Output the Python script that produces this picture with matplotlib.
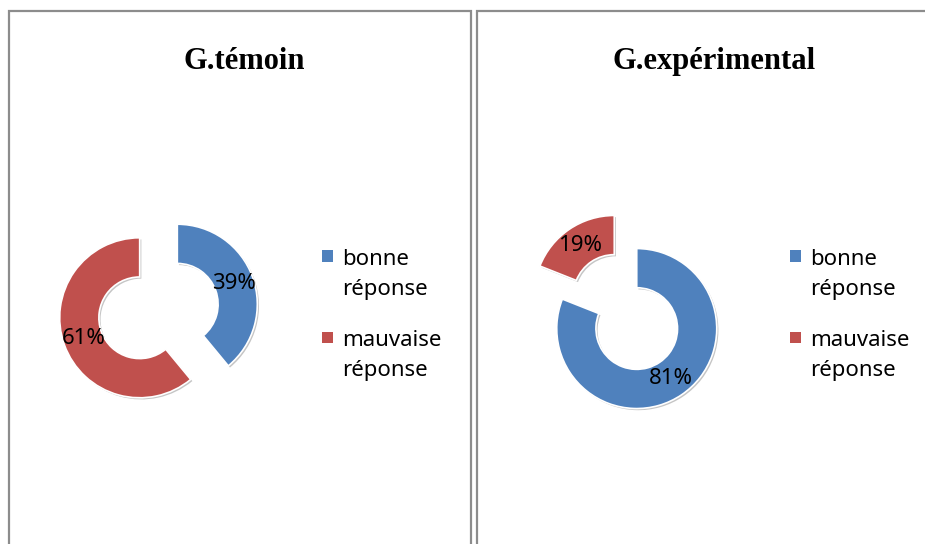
import matplotlib

matplotlib.use("Agg")

import matplotlib.pyplot as plt  # noqa: E402
import matplotlib.patheffects as pe  # noqa: E402
from matplotlib.patches import Rectangle  # noqa: E402

# data
categories = ["bonne\nréponse", "mauvaise\nréponse"]
group_titles = ["G.témoin", "G.expérimental"]
temoin_values = [39, 61]
experimental_values = [81, 19]

_BLUE = "#4F81BD"
_RED = "#C0504D"
_BORDER = "#8C8C8C"
_FONT = "Noto Sans"
_W, _H = 925, 544

colors = [_BLUE, _RED]

fig = plt.figure(figsize=(_W / 100, _H / 100), dpi=100)
fig.patch.set_facecolor("white")


def px(x, y):
    # pixel coords (top-left origin) -> figure fraction
    return x / _W, 1 - y / _H


# panel frames (bottom / right edge run off the picture)
for x0, x1 in [(9, 470.5), (477, 940)]:
    fx0, fy0 = px(x0, 10.5)
    fx1, fy1 = px(x1, 560)
    fig.patches.append(
        Rectangle((fx0, fy1), fx1 - fx0, fy0 - fy1, transform=fig.transFigure,
                  fill=False, edgecolor=_BORDER, linewidth=1.6, zorder=0)
    )

panels = [
    # pie center, title center x, legend marker x, legend text x
    dict(values=temoin_values, center=(158.5, 311), title_x=244, mark_x=327.5, text_x=342),
    dict(values=experimental_values, center=(625.5, 312), title_x=714, mark_x=795, text_x=810),
]

size = 240  # px, axes box
for title, p in zip(group_titles, panels):
    cx, cy = p["center"]
    fx, fy = px(cx - size / 2, cy + size / 2)
    ax = fig.add_axes([fx, fy, size / _W, size / _H])
    wedges, _texts, autotexts = ax.pie(
        p["values"],
        colors=colors,
        startangle=90,
        counterclock=False,
        explode=[0.25, 0.25],
        radius=1.0,
        autopct="%.0f%%",
        pctdistance=0.75,
        wedgeprops=dict(width=0.49, edgecolor="white", linewidth=1.2),
        textprops=dict(fontsize=16, family=_FONT, color="black"),
    )
    for w in wedges:
        w.set_path_effects([
            pe.SimplePatchShadow(offset=(1.2, -1.2), shadow_rgbFace="#7f7f7f", alpha=0.45),
            pe.Normal(),
        ])
    ax.set_xlim(-1.5, 1.5)
    ax.set_ylim(-1.5, 1.5)
    ax.set_aspect("equal")
    ax.axis("off")

    tx, ty = px(p["title_x"], 69)
    fig.text(tx, ty, title, ha="center", va="baseline", fontsize=22,
             fontweight="bold", family="Liberation Serif")

    # legend
    for i, (lab, col) in enumerate(zip(categories, colors)):
        my = 256 + i * 81
        mx0, my0 = px(p["mark_x"] - 5.5, my + 5.5)
        fig.patches.append(
            Rectangle((mx0, my0), 11 / _W, 11 / _H, transform=fig.transFigure,
                      facecolor=col, edgecolor="none")
        )
        lx, ly = px(p["text_x"], my + 18.5)
        fig.text(lx, ly, lab, ha="left", va="center", fontsize=16,
                 family=_FONT, linespacing=1.62, color="black")

fig.savefig("out.png", dpi=100, facecolor=fig.get_facecolor())
